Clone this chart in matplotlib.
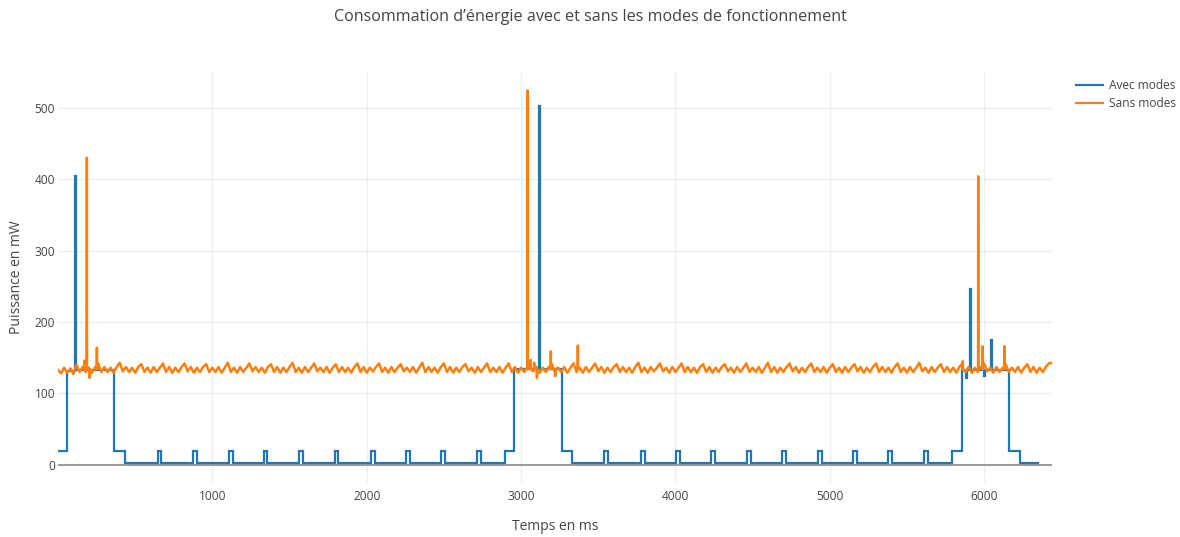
import numpy as np
import matplotlib
matplotlib.use("Agg")
import matplotlib.pyplot as plt

# Avec modes : puissance en paliers (temps de debut du palier en ms, valeur en mW)
avec_t = [0, 61, 112, 115, 365, 437,
          645, 669, 877, 901, 1110, 1134, 1333, 1357, 1563, 1587,
          1792, 1816, 2030, 2054, 2257, 2281, 2483, 2507, 2716, 2740,
          2898, 2956, 3118, 3122, 3265, 3332,
          3539, 3563, 3779, 3803, 4005, 4029, 4232, 4256, 4465, 4489,
          4692, 4716, 4925, 4949, 5152, 5176, 5379, 5403, 5611, 5635,
          5793, 5858, 5883, 5887, 5910, 5914, 6002, 6006, 6048, 6052,
          6163, 6233, 6350]
avec_v = [20, 131, 405, 133, 20, 3,
          20, 3, 20, 3, 20, 3, 20, 3, 20, 3,
          20, 3, 20, 3, 20, 3, 20, 3, 20, 3,
          20, 134, 503, 134, 20, 3,
          20, 3, 20, 3, 20, 3, 20, 3, 20, 3,
          20, 3, 20, 3, 20, 3, 20, 3, 20, 3,
          20, 133, 122, 133, 246, 133, 124, 133, 175, 133,
          20, 3, 3]

# Sans modes : releve toutes les 20 ms
sans_v = [
    133, 128, 136, 129, 135, 127, 140, 130, 137, 130, 136, 129, 137, 142,
    130, 137, 130, 136, 129, 137, 143, 131, 137, 130, 136, 129, 137, 141,
    130, 136, 129, 137, 130, 136, 142, 130, 137, 129, 136, 130, 137, 142,
    131, 137, 129, 136, 130, 137, 141, 130, 136, 130, 137, 129, 136, 143,
    130, 136, 129, 137, 130, 136, 142, 131, 137, 130, 136, 129, 137, 141,
    130, 137, 129, 136, 130, 137, 143, 130, 136, 129, 137, 130, 136, 142,
    131, 136, 130, 137, 129, 136, 141, 130, 137, 130, 136, 129, 137, 142,
    130, 137, 129, 136, 131, 137, 142, 130, 136, 129, 137, 130, 136, 141,
    131, 136, 130, 137, 129, 136, 143, 130, 137, 130, 136, 129, 137, 142,
    130, 137, 129, 136, 130, 137, 141, 131, 136, 129, 137, 130, 136, 142,
    130, 136, 130, 137, 129, 136, 142, 130, 137, 129, 136, 130, 137, 143,
    131, 137, 129, 136, 130, 137, 141, 130, 136, 130, 137, 129, 136, 142,
    130, 136, 129, 137, 130, 136, 142, 131, 137, 129, 136, 130, 137, 141,
    130, 137, 130, 136, 129, 137, 143, 130, 136, 129, 137, 131, 136, 142,
    131, 136, 129, 137, 130, 136, 142, 130, 137, 130, 136, 129, 137, 141,
    130, 137, 129, 136, 130, 137, 141, 131, 136, 129, 137, 130, 136, 142,
    130, 136, 130, 137, 129, 136, 143, 130, 137, 129, 136, 130, 137, 142,
    131, 137, 129, 136, 130, 137, 142, 130, 136, 130, 137, 129, 136, 141,
    130, 136, 129, 137, 130, 136, 141, 131, 137, 129, 136, 130, 137, 142,
    130, 137, 130, 136, 129, 137, 142, 130, 136, 129, 137, 130, 136, 143,
    131, 136, 129, 137, 130, 136, 141, 130, 137, 130, 136, 129, 137, 142,
    130, 137, 129, 136, 130, 137, 142, 131, 136, 129, 137, 130, 136, 141,
    130, 136, 130, 137, 129, 136, 141, 130, 137, 129, 136, 130, 137, 142,
    143]

# pics et creux ponctuels de la courbe sans modes
pics_t = [171, 187, 205, 252, 3042, 3063, 3085, 3103, 3193, 3221, 3368,
          5862, 5962, 5989, 6131]
pics_v = [146, 430, 122, 164, 524, 147, 143, 122, 159, 124, 167,
          145, 404, 166, 166]
niveau = 134

sans_t = 20 * np.arange(len(sans_v))
pts = list(zip(sans_t, sans_v))
for t, v in zip(pics_t, pics_v):
    pts += [(t - 1, niveau), (t, v), (t + 1, niveau)]
pts.sort()
st, sv = zip(*pts)

plt.rcParams['font.family'] = ['Open Sans', 'DejaVu Sans']
gris = '#444444'

fig = plt.figure(figsize=(11.8, 5.37), dpi=100)
ax = fig.add_axes([58/1180, 1 - 482/537, (1052-58)/1180, (482-72)/537])

ax.plot(avec_t, avec_v, drawstyle='steps-post', color='#1f77b4', lw=1.6,
        label='Avec modes', solid_joinstyle='miter')
ax.plot(st, sv, color='#ff7f0e', lw=1.8, label='Sans modes')

ax.set_xlim(0, 6440)
ax.set_ylim(-24, 550)
ax.set_xticks([1000, 2000, 3000, 4000, 5000, 6000])
ax.set_yticks([0, 100, 200, 300, 400, 500])
ax.grid(True, color='#eeeeee', lw=1)
ax.set_axisbelow(True)
ax.axhline(0, color='#8a8a8a', lw=1.2, zorder=1.5)
for s in ax.spines.values():
    s.set_visible(False)
ax.tick_params(length=0, labelsize=8.6, labelcolor=gris)
ax.tick_params(axis='x', pad=6)
ax.tick_params(axis='y', pad=2)

fig.text(555/1180, 1 - 527/537, 'Temps en ms', fontsize=10, color=gris,
         ha='center', va='center')
fig.text(17/1180, 1 - 277/537, 'Puissance en mW', fontsize=10, color=gris,
         ha='center', va='center', rotation=90)
fig.text(0.5, 1 - 17/537,
         'Consommation d’énergie avec et sans les modes de fonctionnement',
         fontsize=11.6, color=gris, ha='center', va='center')

leg = fig.legend(loc='upper left', bbox_to_anchor=(1076/1180, 1 - 79/537),
                 frameon=False, fontsize=8.6, handlelength=2.3,
                 handletextpad=0.5, labelspacing=0.45, borderaxespad=0,
                 borderpad=0, labelcolor=gris)
for h in leg.get_lines():
    h.set_linewidth(1.6)

fig.savefig('out.png', dpi=100)
